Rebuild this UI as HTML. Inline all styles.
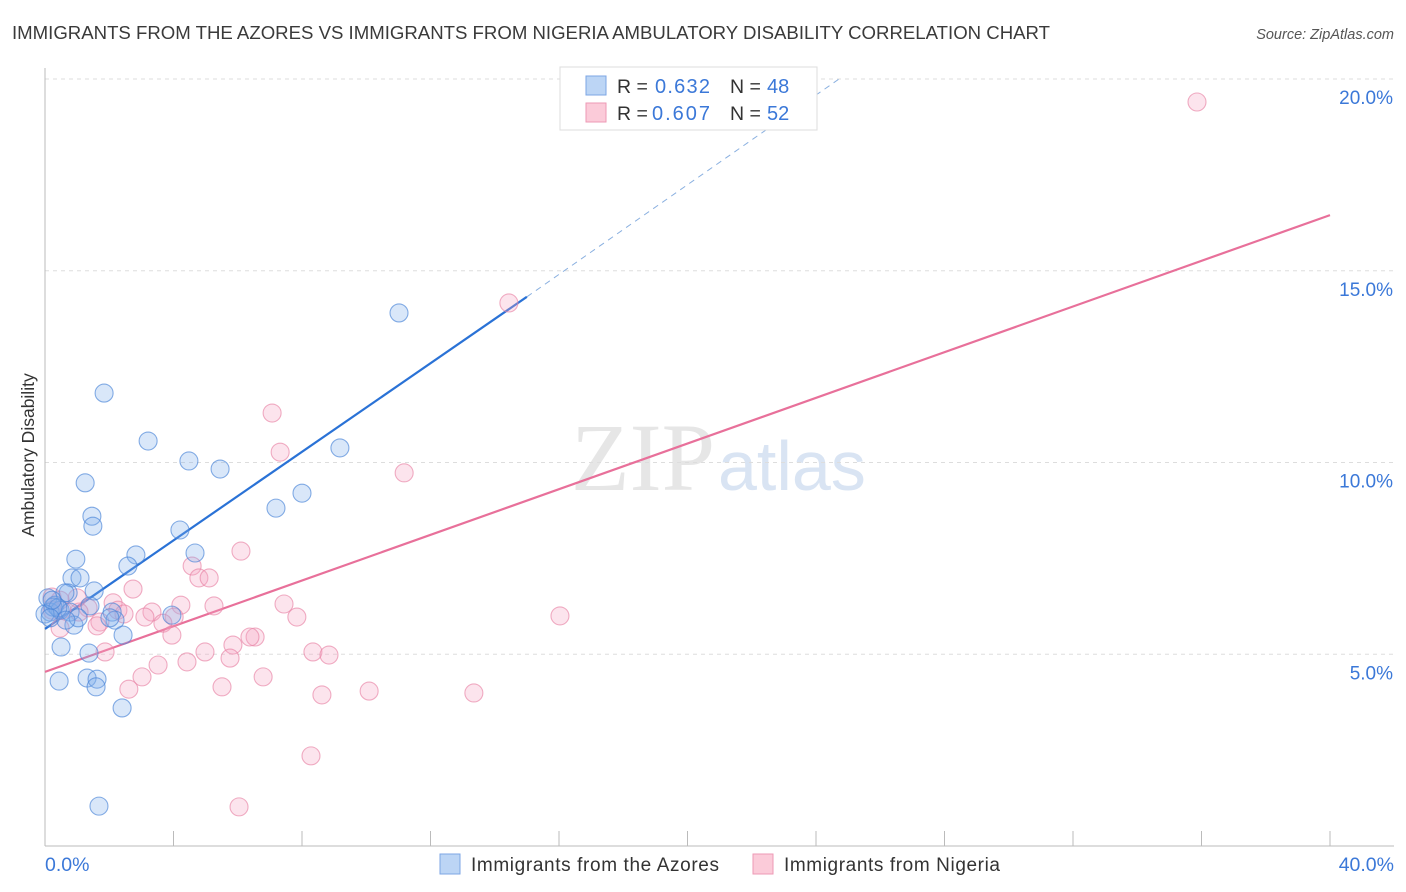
<!DOCTYPE html>
<html><head><meta charset="utf-8"><style>
body{margin:0;background:#fff;font-family:"Liberation Sans",sans-serif;}
svg{display:block}
</style></head><body>
<svg id="chart" width="1406" height="892">
<text x="12" y="39" font-size="18.3" fill="#3a3a3a" textLength="1038" lengthAdjust="spacingAndGlyphs">IMMIGRANTS FROM THE AZORES VS IMMIGRANTS FROM NIGERIA AMBULATORY DISABILITY CORRELATION CHART</text>
<text x="1394" y="39" font-size="14.5" fill="#555" font-style="italic" text-anchor="end">Source: ZipAtlas.com</text>
<text x="715" y="490" font-size="96" fill="#e6e6e6" text-anchor="end" font-family="Liberation Serif">ZIP</text>
<text x="718" y="490" font-size="70" fill="#d9e4f3">atlas</text>
<g id="grid"></g>
<g id="axes"></g>
<g id="lines"></g>
<g id="points"></g>
<text x="34" y="455" font-size="17.5" fill="#333" text-anchor="middle" transform="rotate(-90 34 455)">Ambulatory Disability</text>
<g>
<rect x="560" y="67" width="257" height="63" fill="#fff" stroke="#ddd"/>
<rect x="586" y="76" width="20" height="19" fill="#bcd5f5" stroke="#7ca6e4"/>
<rect x="586" y="103" width="20" height="19" fill="#fbcbd9" stroke="#ee9ab5"/>
<text x="617" y="93" font-size="19.5" fill="#333">R =</text>
<text x="655" y="93" font-size="20" fill="#3b78d8" textLength="55">0.632</text>
<text x="730" y="93" font-size="19.5" fill="#333">N =</text>
<text x="767" y="93" font-size="20" fill="#3b78d8">48</text>
<text x="617" y="120" font-size="19.5" fill="#333">R =</text>
<text x="652" y="120" font-size="20" fill="#3b78d8" textLength="58">0.607</text>
<text x="730" y="120" font-size="19.5" fill="#333">N =</text>
<text x="767" y="120" font-size="20" fill="#3b78d8">52</text>
</g>
<g>
<rect x="440" y="854" width="20" height="20" fill="#bcd5f5" stroke="#7ca6e4"/>
<text x="471" y="871" font-size="19" fill="#333" textLength="248">Immigrants from the Azores</text>
<rect x="753" y="854" width="20" height="20" fill="#fbcbd9" stroke="#ee9ab5"/>
<text x="784" y="871" font-size="19" fill="#333" textLength="216">Immigrants from Nigeria</text>
</g>
</svg>
<script>
const yTicks=[5,10,15,20];
const yTickLabels=["5.0%","10.0%","15.0%","20.0%"];
const xTickLabels=["0.0%","40.0%"];
const blueX=[1.84,3.21,4.48,5.45,1.25,1.46,1.49,4.20,7.19,8.00,9.18,11.02,2.83,4.67,0.96,2.58,0.84,1.09,0.72,1.53,0.62,0.09,0.31,0.16,0.47,0.78,1.40,2.09,2.18,3.95,0.90,2.43,0.50,1.37,0.44,1.31,1.62,1.59,2.40,1.68,0.25,0.40,1.03,2.02,0.0,0.16,0.65,0.22];
const blueY=[11.81,10.56,10.04,9.83,9.47,8.60,8.34,8.24,8.81,9.20,10.38,13.90,7.59,7.64,7.48,7.30,6.99,6.99,6.60,6.65,6.60,6.47,6.28,6.10,6.15,6.10,6.26,6.10,5.89,6.02,5.76,5.50,5.19,5.03,4.30,4.38,4.35,4.15,3.60,1.04,6.23,6.21,5.95,5.95,6.05,5.95,5.89,6.41];
const pinkX=[35.86,14.44,7.07,7.32,11.18,6.10,4.58,4.79,5.11,2.74,16.03,5.26,4.23,3.33,4.02,7.44,7.84,2.12,2.27,2.46,3.11,3.67,3.95,1.71,1.34,1.06,0.53,0.22,0.47,5.85,6.54,6.38,4.98,8.34,8.84,5.76,4.42,3.52,1.87,3.02,2.61,6.79,5.51,8.62,10.09,13.35,8.28,6.04,1.62,0.22,0.47,1.00];
const pinkY=[19.40,14.16,11.29,10.27,9.73,7.69,7.30,6.99,6.99,6.70,6.00,6.26,6.28,6.10,5.97,6.31,5.97,6.34,6.15,6.05,5.97,5.81,5.50,5.84,6.21,6.10,6.15,6.49,5.68,5.24,5.45,5.45,5.06,5.06,4.98,4.90,4.80,4.72,5.06,4.41,4.09,4.41,4.15,3.94,4.04,3.99,2.35,1.02,5.74,6.15,6.41,6.47];
const blueLine=[0,5.66,15.0,14.32];
const blueDash=[15.0,14.32,24.7,19.99];
const pinkLine=[0,4.54,40,16.45];
const NS="http://www.w3.org/2000/svg";
const X=v=>45+v*1285/40;
const Y=v=>846-v*38.35;
function mk(tag,attrs,parent){const e=document.createElementNS(NS,tag);for(const k in attrs)e.setAttribute(k,attrs[k]);document.getElementById(parent).appendChild(e);return e;}
yTicks.forEach((t,i)=>{
 const g=mk('line',{x1:45,x2:1394,y1:Y(t),y2:Y(t),stroke:'#ddd','stroke-dasharray':'4,4'},'grid');
 
 
 const tx=mk('text',{x:1393,y:Y(t)+25,'font-size':19,fill:'#3b78d8','text-anchor':'end'},'grid');
 tx.textContent=yTickLabels[i];
 
 
});
const ax=mk('line',{x1:45,x2:45,y1:68,y2:846,stroke:'#bbb'},'axes');


const bx=mk('line',{x1:45,x2:1394,y1:846,y2:846,stroke:'#bbb'},'axes');


for(let i=1;i<=10;i++){
 const t=mk('line',{x1:X(i*4),x2:X(i*4),y1:831,y2:846,stroke:'#bbb'},'axes');
 
 
}
[[0,'start',45],[40,'end',1394]].forEach((d,i)=>{
 const t=mk('text',{x:d[2],y:871,'font-size':19.5,fill:'#3b78d8','text-anchor':d[1]},'axes');
 t.textContent=xTickLabels[i];
 
 
});
function drawPts(xs,ys,fill,stroke,name){
 xs.forEach((x,i)=>{
  const c=mk('circle',{cx:X(x),cy:Y(ys[i]),r:9,fill:fill,stroke:stroke,'stroke-width':1.1},'points');
  
  
 });
}
drawPts(pinkX,pinkY,'rgba(245,165,195,0.3)','rgba(232,130,165,0.65)','nigeria-point');
drawPts(blueX,blueY,'rgba(130,175,235,0.3)','rgba(70,130,215,0.65)','azores-point');
const l1=mk('line',{x1:X(blueLine[0]),y1:Y(blueLine[1]),x2:X(blueLine[2]),y2:Y(blueLine[3]),stroke:'#2a72d6','stroke-width':2.2},'lines');


const l2=mk('line',{x1:X(blueDash[0]),y1:Y(blueDash[1]),x2:X(blueDash[2]),y2:Y(blueDash[3]),stroke:'#8ab0e0','stroke-width':1,'stroke-dasharray':'6,5'},'lines');


const l3=mk('line',{x1:X(pinkLine[0]),y1:Y(pinkLine[1]),x2:X(pinkLine[2]),y2:Y(pinkLine[3]),stroke:'#e8709a','stroke-width':2.2},'lines');


</script>
</body></html>
